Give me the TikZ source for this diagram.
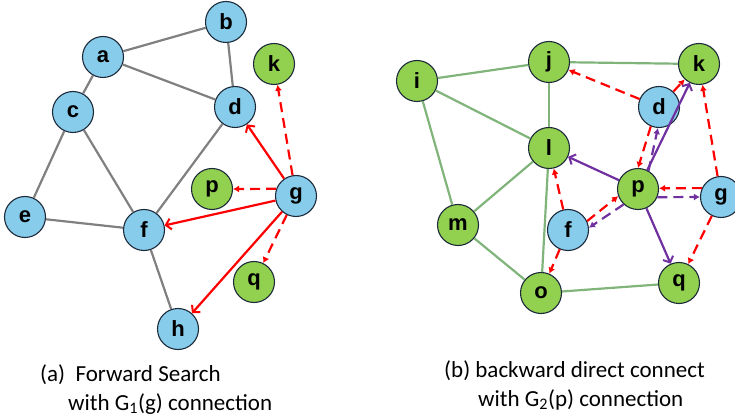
\documentclass[tikz,border=0pt]{standalone}
\usepackage{fontspec}
\setmainfont{Carlito}
\newfontfamily\labelfont{Liberation Sans}
\usepackage{tikz}
\usetikzlibrary{arrows.meta,calc}
\definecolor{vblue}{RGB}{135,204,235}
\definecolor{vgreen}{RGB}{146,208,80}
\definecolor{vedge}{RGB}{28,42,58}
\definecolor{lgray}{RGB}{128,128,128}
\definecolor{lgreen}{RGB}{128,180,122}
\definecolor{vpurple}{RGB}{112,48,160}
\tikzset{%
	vtx/.style      = {draw=vedge, line width=1.1pt, circle, minimum size=41pt, inner sep=0pt,
	                   font=\labelfont\bfseries\fontsize{22}{22}\selectfont},
	bvtx/.style     = {vtx, fill=vblue}, % first graph
	gvtx/.style     = {vtx, fill=vgreen}, % second graph
	glink/.style    = {draw=lgray, line width=2.2pt},
	grlink/.style   = {draw=lgreen, line width=2.2pt},
	fwd/.style      = {draw=red, line width=2.2pt, -{Straight Barb[length=5pt,width=11pt,line width=2pt]}},
	fwddash/.style  = {draw=red, line width=2.2pt, dash pattern=on 10pt off 6pt, -{Latex[length=6pt,width=7pt]}},
	bwd/.style      = {draw=vpurple, line width=2.2pt, -{Straight Barb[length=5pt,width=11pt,line width=2pt]}},
	bwddash/.style  = {draw=vpurple, line width=2.2pt, dash pattern=on 10pt off 6pt, -{Latex[length=6pt,width=7pt]}},
	caption/.style  = {anchor=base west, inner sep=0pt, font=\fontsize{23}{28}\selectfont},
}

\begin{document}
\begin{tikzpicture}[x=1pt,y=-1pt]
	\useasboundingbox (0,0) rectangle (735,419);

	% (a) forward search
	\node [bvtx] (a) at (103,57) {a};
	\node [bvtx] (b) at (226,22) {b};
	\node [bvtx] (c) at (73,112) {c};
	\node [bvtx] (d) at (235,107) {d};
	\node [bvtx] (e) at (25,217) {e};
	\node [bvtx] (f) at (144,230) {f};
	\node [bvtx] (g) at (296,196) {g};
	\node [bvtx] (h) at (178,329) {h};
	\node [gvtx] (k) at (274,64) {k};
	\node [gvtx] (p) at (212,189) {p};
	\node [gvtx] (q) at (254,282) {q};

	\draw [glink] (a) -- (b);
	\draw [glink] (a) -- (d);
	\draw [glink] (a) -- (c);
	\draw [glink] (b) -- (d);
	\draw [glink] (c) -- (e);
	\draw [glink] (c) -- (f);
	\draw [glink] (d) -- (f);
	\draw [glink] (e) -- (f);
	\draw [glink] (f) -- (h);

	\draw [fwd] (g) -- (d);
	\draw [fwd] (g) -- (f);
	\draw [fwd] (g) -- (h);
	\draw [fwddash] (g) -- (k);
	\draw [fwddash] (g.160) -- (p.east);
	\draw [fwddash] (g) -- (q);

	% (b) backward direct connect
	\node [gvtx] (i2) at (417,81) {i};
	\node [gvtx] (j2) at (549,62) {j};
	\node [gvtx] (k2) at (699,64) {k};
	\node [bvtx] (d2) at (659,107) {d};
	\node [gvtx] (l2) at (549,148) {l};
	\node [gvtx] (p2) at (638,189) {p};
	\node [bvtx] (g2) at (721,197) {g};
	\node [gvtx] (m2) at (458,225) {m};
	\node [bvtx] (f2) at (568,230) {f};
	\node [gvtx] (q2) at (679,283) {q};
	\node [gvtx] (o2) at (541,293) {o};

	\draw [grlink] (i2) -- (j2);
	\draw [grlink] (j2) -- (k2);
	\draw [grlink] (i2) -- (l2);
	\draw [grlink] (i2) -- (m2);
	\draw [grlink] (j2) -- (l2);
	\draw [grlink] (l2) -- (m2);
	\draw [grlink] (l2) -- (o2);
	\draw [grlink] (m2) -- (o2);
	\draw [grlink] (o2) -- (q2);

	\draw [fwddash] (d2) -- (j2);
	\draw [fwddash] (d2) -- (k2);
	\draw [fwddash] (d2.247) -- (p2.90);
	\draw [fwddash] (g2) -- (k2);
	\draw [fwddash] (g2) -- (q2);
	\draw [fwddash] (g2.155) -- (p2.2);
	\draw [fwddash] (f2) -- (l2);
	\draw [fwddash] (f2) -- (o2);
	\draw [fwddash] (f2.25) -- (p2.200);

	\draw [bwd] (p2) -- (l2);
	\draw [bwd] (p2) -- (k2);
	\draw [bwd] (p2) -- (q2);
	\draw [bwddash] (p2.60) -- (d2.267);
	\draw [bwddash] (p2.337) -- (g2.180);
	\draw [bwddash] (p2.227) -- (f2.6);

	\node [caption] (capa1) at (40,381) {(a)~~Forward Search};
	\node [caption] (capa2) at (68,410) {with G\textsubscript{1}(g) connection};
	\node [caption] (capb1) at (444,377) {(b) backward direct connect};
	\node [caption] (capb2) at (478,406) {with G\textsubscript{2}(p) connection};
\end{tikzpicture}
\end{document}
